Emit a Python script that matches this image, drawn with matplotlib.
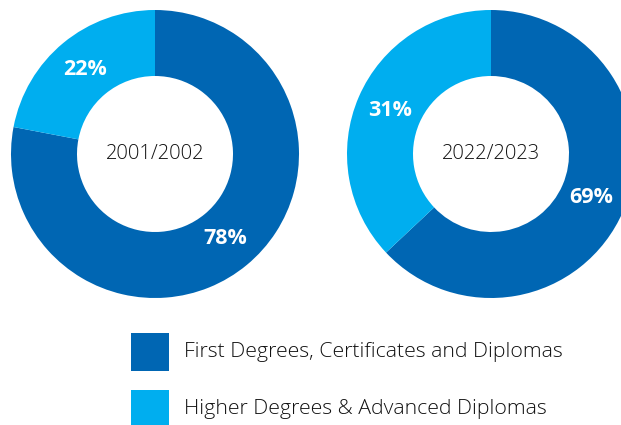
import numpy as np
import matplotlib
matplotlib.use("Agg")
import matplotlib.pyplot as plt
from matplotlib.patches import Rectangle

# data
years = ["2001/2002", "2022/2023"]
# percentages printed on the chart
first_degrees = [78, 69]
higher_degrees = [22, 31]
# wedge sizes as actually drawn in the source picture (2022/23 arc is ~63/37)
first_arc = [78, 63]
higher_arc = [22, 37]
categories = ["First Degrees, Certificates and Diplomas",
              "Higher Degrees & Advanced Diplomas"]

DARK = "#0066b3"
LIGHT = "#00aeef"
TEXT = "#111111"

W, H = 621, 425
fig = plt.figure(figsize=(W / 100, H / 100), dpi=100)
ax = fig.add_axes([0, 0, 1, 1])

centers = [(155, 271), (491, 271)]
radius = 144
width = 66
label_r = 0.76

for i, (year, c) in enumerate(zip(years, centers)):
    arcs = [first_arc[i], higher_arc[i]]
    labels = [first_degrees[i], higher_degrees[i]]
    wedges, _ = ax.pie(arcs, colors=[DARK, LIGHT], startangle=90,
                       counterclock=False, center=c, radius=radius,
                       wedgeprops=dict(width=width, linewidth=0))
    for w, v in zip(wedges, labels):
        mid = np.deg2rad((w.theta1 + w.theta2) / 2)
        x = c[0] + label_r * radius * np.cos(mid)
        y = c[1] + label_r * radius * np.sin(mid)
        ax.text(x, y, f"{v}%", color="white", fontsize=15.5,
                fontweight="bold", family="Open Sans",
                ha="center", va="center")
    ax.text(c[0], c[1], year, color=TEXT, fontsize=14.5, fontweight="light",
            family="Open Sans", ha="center", va="center")

# legend
for k, (label, col) in enumerate(zip(categories, [DARK, LIGHT])):
    y0 = 54 - k * 57
    ax.add_patch(Rectangle((131, y0), 38, 38, color=col, lw=0))
    ax.text(184, y0 + 19, label, color=TEXT, fontsize=15.3, fontweight="light",
            family="Open Sans", ha="left", va="center")

ax.set_xlim(0, W)
ax.set_ylim(0, H)
ax.set_aspect("auto")
ax.axis("off")

fig.savefig("out.png", dpi=100)
